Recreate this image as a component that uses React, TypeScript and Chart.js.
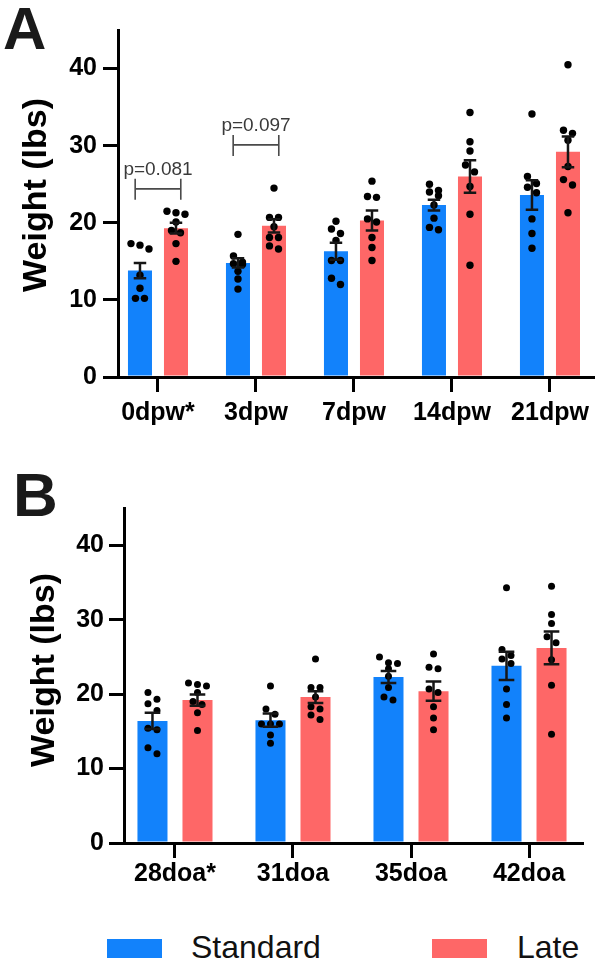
import { useEffect, useRef } from 'react';
import { Chart, registerables } from 'chart.js';

Chart.register(...registerables);

const FONT = '"Liberation Sans", Arial, Helvetica, sans-serif';
const STANDARD_COLOR = '#1282FB';
const LATE_COLOR = '#FE6767';
const INK = '#000000';

const seriesNames = ['Standard', 'Late'];
const yTitle = 'Weight (lbs)';
const yMax = 45;
const yStep = 10;

// Panel A: days post-weaning
const dpwLabels = ['0dpw*', '3dpw', '7dpw', '14dpw', '21dpw'];
const dpwStandardMean = [13.8, 14.8, 16.3, 22.3, 23.6];
const dpwStandardSem = [1.0, 0.6, 1.1, 0.7, 1.9];
const dpwLateMean = [19.3, 19.6, 20.3, 26.0, 29.2];
const dpwLateSem = [0.7, 0.85, 1.3, 2.1, 2.0];
const dpwStandardPoints = [
  [17.3, 17.1, 16.6, 13.2, 11.5, 10.2, 10.2],
  [18.5, 15.7, 14.9, 14.7, 14.6, 13.7, 12.7, 11.4],
  [20.2, 19.2, 18.6, 17.7, 15.1, 15.1, 12.8, 12.0],
  [25.0, 24.2, 24.0, 23.5, 22.3, 20.6, 19.4, 19.1],
  [34.1, 26.0, 25.1, 24.6, 23.9, 20.5, 18.6, 16.7],
];
const dpwLatePoints = [
  [21.5, 21.3, 21.1, 20.1, 19.0, 18.7, 17.3, 15.0],
  [24.5, 20.7, 20.7, 19.5, 18.1, 18.1, 17.0, 16.6],
  [25.4, 23.4, 23.3, 20.5, 20.1, 18.1, 16.8, 15.1],
  [34.3, 30.5, 29.3, 27.5, 26.6, 24.7, 21.1, 14.5],
  [40.5, 32.0, 31.6, 30.7, 27.3, 25.6, 24.9, 21.3],
];
const dpwPGroups = [0, 1];
const dpwPLevels = [24.4, 30.1];
const dpwPLabels = ['p=0.081', 'p=0.097'];

// Panel B: days of age
const doaLabels = ['28doa*', '31doa', '35doa', '42doa'];
const doaStandardMean = [16.4, 16.5, 22.3, 23.8];
const doaStandardSem = [1.1, 0.9, 0.8, 1.9];
const doaLateMean = [19.2, 19.6, 20.4, 26.2];
const doaLateSem = [0.75, 0.8, 1.3, 2.2];
const doaStandardPoints = [
  [20.2, 19.3, 18.7, 17.8, 15.4, 15.2, 12.8, 12.0],
  [21.1, 18.0, 17.3, 16.0, 16.0, 16.0, 14.5, 13.4],
  [25.0, 24.2, 24.1, 23.4, 22.4, 20.9, 19.6, 19.2],
  [34.3, 26.0, 25.2, 24.7, 24.1, 20.7, 18.6, 16.8],
];
const doaLatePoints = [
  [21.5, 21.3, 21.1, 20.2, 19.0, 18.6, 17.5, 15.1],
  [24.7, 20.9, 20.9, 19.6, 18.3, 18.0, 17.2, 16.6],
  [25.4, 23.6, 23.4, 20.7, 20.2, 18.3, 16.8, 15.2],
  [34.5, 30.7, 29.5, 27.7, 26.9, 24.6, 21.2, 14.6],
];
const doaPGroups: number[] = [];
const doaPLevels: number[] = [];
const doaPLabels: string[] = [];

type PanelSpec = {
  labels: string[];
  standardMean: number[];
  standardSem: number[];
  lateMean: number[];
  lateSem: number[];
  standardPoints: number[][];
  latePoints: number[][];
  pGroups: number[];
  pLevels: number[];
  pLabels: string[];
  top: number;
  width: number;
  height: number;
  area: { left: number; top: number; right: number; bottom: number };
  xMin: number;
  xMax: number;
  categoryPercentage: number;
  dotRadius: number;
  dotStep: number;
  titleAt: { x: number; y: number };
  xTickPad: number;
  yTickPad: number;
};

const panelA: PanelSpec = {
  labels: dpwLabels,
  standardMean: dpwStandardMean,
  standardSem: dpwStandardSem,
  lateMean: dpwLateMean,
  lateSem: dpwLateSem,
  standardPoints: dpwStandardPoints,
  latePoints: dpwLatePoints,
  pGroups: dpwPGroups,
  pLevels: dpwPLevels,
  pLabels: dpwPLabels,
  top: 0,
  width: 596,
  height: 445,
  area: { left: 118, top: 30, right: 593, bottom: 377 },
  xMin: -0.408,
  xMax: 4.439,
  categoryPercentage: 0.735,
  dotRadius: 3.7,
  dotStep: 9,
  titleAt: { x: 37, y: 195 },
  xTickPad: 6,
  yTickPad: 6,
};

const panelB: PanelSpec = {
  labels: doaLabels,
  standardMean: doaStandardMean,
  standardSem: doaStandardSem,
  lateMean: doaLateMean,
  lateSem: doaLateSem,
  standardPoints: doaStandardPoints,
  latePoints: doaLatePoints,
  pGroups: doaPGroups,
  pLevels: doaPLevels,
  pLabels: doaPLabels,
  top: 460,
  width: 596,
  height: 445,
  area: { left: 124, top: 48, right: 582, bottom: 383 },
  xMin: -0.432,
  xMax: 3.449,
  categoryPercentage: 0.763,
  dotRadius: 3.5,
  dotStep: 9,
  titleAt: { x: 45, y: 210 },
  xTickPad: 1,
  yTickPad: 5,
};

// Spread overlapping dots sideways in rows (top to bottom), like a scatter-dot plot.
function swarmOffsets(py: number[], diameter: number, step: number): number[] {
  const order = py.map((_, i) => i).sort((a, b) => py[a] - py[b]);
  const offsets = new Array(py.length).fill(0);
  let row: number[] = [];
  const flush = () => {
    row.forEach((idx, k) => {
      offsets[idx] = (k - (row.length - 1) / 2) * step;
    });
    row = [];
  };
  for (const idx of order) {
    if (row.length && (py[idx] - py[row[0]] >= diameter || row.length === 3)) flush();
    row.push(idx);
  }
  flush();
  return offsets;
}

function overlayPlugin(spec: PanelSpec) {
  return {
    id: 'groupOverlay',
    afterDatasetsDraw(chart: any) {
      const ctx = chart.ctx as CanvasRenderingContext2D;
      const yScale = chart.scales.y;
      const pointSets = [spec.standardPoints, spec.latePoints];
      const means = [spec.standardMean, spec.lateMean];
      const sems = [spec.standardSem, spec.lateSem];
      ctx.save();

      // individual animals
      ctx.fillStyle = '#000';
      pointSets.forEach((groups, d) => {
        const meta = chart.getDatasetMeta(d);
        groups.forEach((vals, i) => {
          const bar = meta.data[i];
          const py = vals.map((v) => yScale.getPixelForValue(v));
          const offs = swarmOffsets(py, spec.dotRadius * 2, spec.dotStep);
          py.forEach((y, k) => {
            ctx.beginPath();
            ctx.arc(bar.x + offs[k], y, spec.dotRadius, 0, Math.PI * 2);
            ctx.fill();
          });
        });
      });

      // mean ± SEM
      ctx.strokeStyle = '#161616';
      ctx.lineWidth = 2.5;
      ctx.lineCap = 'butt';
      means.forEach((m, d) => {
        const meta = chart.getDatasetMeta(d);
        m.forEach((mean, i) => {
          const bar = meta.data[i];
          const hi = yScale.getPixelForValue(mean + sems[d][i]);
          const lo = yScale.getPixelForValue(mean - sems[d][i]);
          const cap = bar.width * 0.26;
          ctx.beginPath();
          ctx.moveTo(bar.x, hi);
          ctx.lineTo(bar.x, lo);
          ctx.moveTo(bar.x - cap, hi);
          ctx.lineTo(bar.x + cap, hi);
          ctx.moveTo(bar.x - cap, lo);
          ctx.lineTo(bar.x + cap, lo);
          ctx.stroke();
        });
      });

      // comparison brackets
      ctx.strokeStyle = '#4a4a4a';
      ctx.fillStyle = '#3a3a3a';
      ctx.lineWidth = 1.6;
      ctx.font = `19px ${FONT}`;
      ctx.textAlign = 'center';
      ctx.textBaseline = 'alphabetic';
      spec.pGroups.forEach((g, k) => {
        const b0 = chart.getDatasetMeta(0).data[g];
        const b1 = chart.getDatasetMeta(1).data[g];
        const x1 = b0.x - b0.width * 0.2;
        const x2 = b1.x + b1.width * 0.2;
        const y = yScale.getPixelForValue(spec.pLevels[k]);
        ctx.beginPath();
        ctx.moveTo(x1, y);
        ctx.lineTo(x2, y);
        ctx.moveTo(x1, y - 10);
        ctx.lineTo(x1, y + 11);
        ctx.moveTo(x2, y - 10);
        ctx.lineTo(x2, y + 11);
        ctx.stroke();
        ctx.fillText(spec.pLabels[k], (x1 + x2) / 2, y - 14);
      });

      ctx.restore();
    },
    afterDraw(chart: any) {
      // rotated y-axis title
      const ctx = chart.ctx as CanvasRenderingContext2D;
      ctx.save();
      ctx.translate(spec.titleAt.x, spec.titleAt.y);
      ctx.rotate(-Math.PI / 2);
      ctx.font = `bold 34px ${FONT}`;
      ctx.fillStyle = INK;
      ctx.textAlign = 'center';
      ctx.textBaseline = 'middle';
      ctx.fillText(yTitle, 0, 0);
      ctx.restore();
    },
  };
}

function Panel({ spec }: { spec: PanelSpec }) {
  const ref = useRef<HTMLCanvasElement | null>(null);

  useEffect(() => {
    if (!ref.current) return;
    const { area } = spec;
    const axisLines = {
      display: true,
      drawOnChartArea: false,
      drawTicks: true,
      tickLength: 15,
      tickWidth: 3,
      lineWidth: 3,
      tickColor: INK,
      color: INK,
      offset: false,
    };
    const border = { display: true, color: INK, width: 3 };
    const tickFont = { family: FONT, size: 25, weight: 'bold' as const };

    const chart = new Chart(ref.current, {
      type: 'bar',
      data: {
        datasets: [
          {
            label: seriesNames[0],
            data: spec.labels.map((_, i) => ({ x: i, y: spec.standardMean[i] })),
            backgroundColor: STANDARD_COLOR,
            borderWidth: 0,
            categoryPercentage: spec.categoryPercentage,
            barPercentage: 0.667,
          },
          {
            label: seriesNames[1],
            data: spec.labels.map((_, i) => ({ x: i, y: spec.lateMean[i] })),
            backgroundColor: LATE_COLOR,
            borderWidth: 0,
            categoryPercentage: spec.categoryPercentage,
            barPercentage: 0.667,
          },
        ],
      },
      options: {
        responsive: false,
        animation: false,
        events: [],
        layout: {
          padding: { left: 0, top: area.top, right: spec.width - area.right, bottom: 0 },
        },
        plugins: {
          legend: { display: false },
          tooltip: { enabled: false },
        },
        scales: {
          x: {
            type: 'linear',
            position: 'bottom',
            min: spec.xMin,
            max: spec.xMax,
            offset: false,
            grid: axisLines,
            border,
            ticks: {
              stepSize: 1,
              includeBounds: false,
              autoSkip: false,
              maxRotation: 0,
              minRotation: 0,
              padding: spec.xTickPad,
              color: INK,
              font: tickFont,
              callback: (v: any) => spec.labels[v] ?? '',
            },
            afterFit: (s: any) => {
              s.height = spec.height - area.bottom;
            },
          },
          y: {
            type: 'linear',
            min: 0,
            max: yMax,
            grid: axisLines,
            border,
            ticks: {
              stepSize: yStep,
              includeBounds: false,
              padding: spec.yTickPad,
              color: INK,
              font: tickFont,
            },
            afterFit: (s: any) => {
              s.width = area.left;
            },
          },
        },
      } as any,
      plugins: [overlayPlugin(spec)],
    });
    return () => chart.destroy();
  }, [spec]);

  return (
    <canvas
      ref={ref}
      width={spec.width}
      height={spec.height}
      style={{ position: 'absolute', left: 0, top: spec.top, width: spec.width, height: spec.height }}
    />
  );
}

const letterStyle = {
  position: 'absolute' as const,
  fontFamily: FONT,
  fontWeight: 'bold' as const,
  color: '#1a1a1a',
};

const legendText = {
  position: 'absolute' as const,
  fontFamily: FONT,
  fontSize: 32,
  lineHeight: '32px',
  color: '#111',
  whiteSpace: 'nowrap' as const,
};

export default function App() {
  return (
    <div
      style={{
        position: 'absolute',
        left: 0,
        top: 0,
        width: 596,
        height: 965,
        background: '#ffffff',
        overflow: 'hidden',
      }}
    >
      <Panel spec={panelA} />
      <Panel spec={panelB} />
      <div style={{ ...letterStyle, left: 3, top: -1, fontSize: 60, lineHeight: '60px' }}>A</div>
      <div style={{ ...letterStyle, left: 13, top: 464, fontSize: 62, lineHeight: '62px' }}>B</div>

      <div style={{ position: 'absolute', left: 107, top: 939, width: 55, height: 19, background: STANDARD_COLOR }} />
      <div style={{ ...legendText, left: 191, top: 931 }}>{seriesNames[0]}</div>
      <div style={{ position: 'absolute', left: 432, top: 939, width: 55, height: 19, background: LATE_COLOR }} />
      <div style={{ ...legendText, left: 517, top: 931 }}>{seriesNames[1]}</div>
    </div>
  );
}
